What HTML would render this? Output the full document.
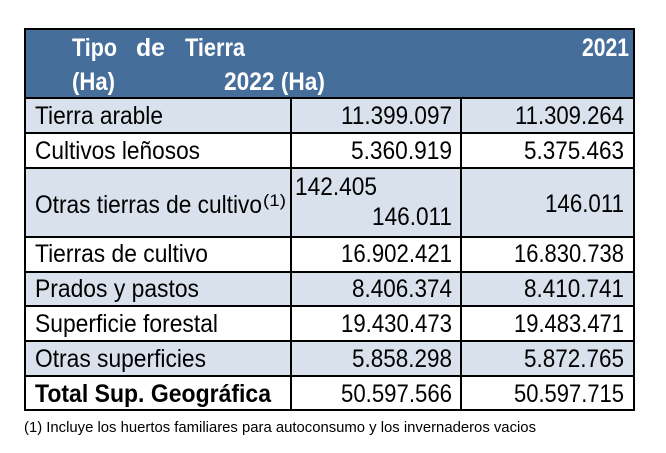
<!DOCTYPE html>
<html><head><meta charset="utf-8"><style>
html,body{margin:0;padding:0;background:#fff;}
svg{display:block;font-family:"Liberation Sans",Arial,sans-serif;}
</style></head><body>
<svg width="666" height="453" viewBox="0 0 666 453" xmlns="http://www.w3.org/2000/svg">
<rect x="0" y="0" width="666" height="453" fill="#fff"/>
<rect x="25" y="29" width="609" height="69" fill="#466e9b"/>
<rect x="25" y="98" width="609" height="35" fill="#d9e2ec"/>
<rect x="25" y="168" width="609" height="69" fill="#d9e2ec"/>
<rect x="25" y="272" width="609" height="34" fill="#d9e2ec"/>
<rect x="25" y="341" width="609" height="35" fill="#d9e2ec"/>
<g stroke="#000" stroke-width="2" fill="none">
<rect x="25" y="29" width="609" height="381"/>
<line x1="25" y1="98" x2="634" y2="98"/>
<line x1="25" y1="133" x2="634" y2="133"/>
<line x1="25" y1="168" x2="634" y2="168"/>
<line x1="25" y1="237" x2="634" y2="237"/>
<line x1="25" y1="272" x2="634" y2="272"/>
<line x1="25" y1="306" x2="634" y2="306"/>
<line x1="25" y1="341" x2="634" y2="341"/>
<line x1="25" y1="376" x2="634" y2="376"/>
<line x1="291" y1="98" x2="291" y2="410"/>
<line x1="461" y1="98" x2="461" y2="410"/>
</g>
<g fill="#fff" font-weight="bold" font-size="25">
<text x="72" y="56" textLength="45" lengthAdjust="spacingAndGlyphs">Tipo</text>
<text x="136" y="56" textLength="29" lengthAdjust="spacingAndGlyphs">de</text>
<text x="185" y="56" textLength="60" lengthAdjust="spacingAndGlyphs">Tierra</text>
<text x="72" y="90" textLength="43" lengthAdjust="spacingAndGlyphs">(Ha)</text>
<text x="224" y="90" textLength="101" lengthAdjust="spacingAndGlyphs">2022 (Ha)</text>
<text x="582" y="56" textLength="47" lengthAdjust="spacingAndGlyphs">2021</text>
</g>
<g fill="#000" font-size="25">
<text x="35" y="124" textLength="128" lengthAdjust="spacingAndGlyphs">Tierra arable</text>
<text x="35" y="159" textLength="165" lengthAdjust="spacingAndGlyphs">Cultivos leñosos</text>
<text x="35" y="213" textLength="227" lengthAdjust="spacingAndGlyphs">Otras tierras de cultivo</text>
<text x="263" y="206" font-size="17" textLength="23" lengthAdjust="spacingAndGlyphs">(1)</text>
<text x="35" y="262" textLength="173" lengthAdjust="spacingAndGlyphs">Tierras de cultivo</text>
<text x="35" y="297" textLength="164" lengthAdjust="spacingAndGlyphs">Prados y pastos</text>
<text x="35" y="332" textLength="183" lengthAdjust="spacingAndGlyphs">Superficie forestal</text>
<text x="35" y="367" textLength="171" lengthAdjust="spacingAndGlyphs">Otras superficies</text>
<text x="35" y="402" font-weight="bold" textLength="236" lengthAdjust="spacingAndGlyphs">Total Sup. Geográfica</text>

<text x="341" y="124" textLength="111" lengthAdjust="spacingAndGlyphs">11.399.097</text>
<text x="515" y="124" textLength="109" lengthAdjust="spacingAndGlyphs">11.309.264</text>
<text x="351" y="159" textLength="101" lengthAdjust="spacingAndGlyphs">5.360.919</text>
<text x="524" y="159" textLength="100" lengthAdjust="spacingAndGlyphs">5.375.463</text>
<text x="295" y="195" textLength="82" lengthAdjust="spacingAndGlyphs">142.405</text>
<text x="372" y="225" textLength="80" lengthAdjust="spacingAndGlyphs">146.011</text>
<text x="545" y="212" textLength="79" lengthAdjust="spacingAndGlyphs">146.011</text>
<text x="341" y="262" textLength="111" lengthAdjust="spacingAndGlyphs">16.902.421</text>
<text x="514" y="262" textLength="110" lengthAdjust="spacingAndGlyphs">16.830.738</text>
<text x="352" y="297" textLength="100" lengthAdjust="spacingAndGlyphs">8.406.374</text>
<text x="524" y="297" textLength="100" lengthAdjust="spacingAndGlyphs">8.410.741</text>
<text x="341" y="332" textLength="111" lengthAdjust="spacingAndGlyphs">19.430.473</text>
<text x="514" y="332" textLength="110" lengthAdjust="spacingAndGlyphs">19.483.471</text>
<text x="352" y="367" textLength="100" lengthAdjust="spacingAndGlyphs">5.858.298</text>
<text x="524" y="367" textLength="100" lengthAdjust="spacingAndGlyphs">5.872.765</text>
<text x="341" y="402" textLength="111" lengthAdjust="spacingAndGlyphs">50.597.566</text>
<text x="514" y="402" textLength="110" lengthAdjust="spacingAndGlyphs">50.597.715</text>
</g>
<text x="24" y="432" font-size="15" fill="#000" textLength="512" lengthAdjust="spacingAndGlyphs">(1) Incluye los huertos familiares para autoconsumo y los invernaderos vacios</text>
</svg>
</body></html>
